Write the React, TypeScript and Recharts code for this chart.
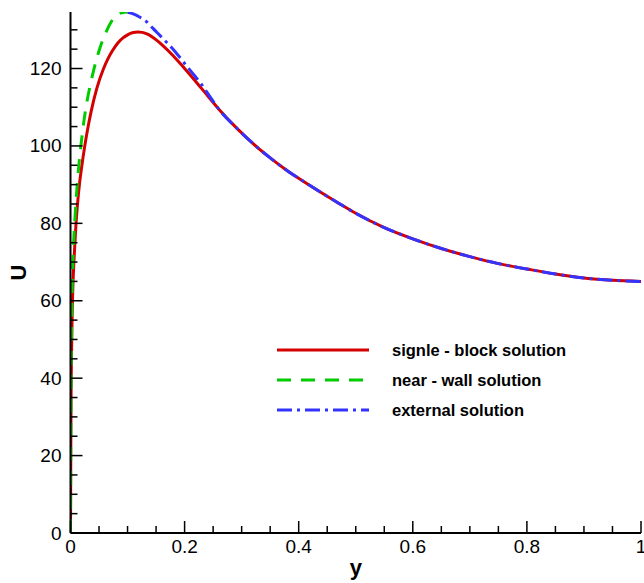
import React from 'react';
import { Legend, Line, LineChart, XAxis, YAxis } from 'recharts';

// single-block solution (red, solid)
const singleBlockY = [
  0, 0.0005, 0.001, 0.002, 0.003, 0.0045, 0.006, 0.0075, 0.0095, 0.0125, 0.016,
  0.02, 0.0245, 0.03, 0.036, 0.046, 0.058, 0.066, 0.074, 0.083, 0.092, 0.1, 0.11,
  0.118, 0.126, 0.135, 0.144, 0.16, 0.18, 0.2, 0.23, 0.26, 0.29, 0.32, 0.35, 0.38,
  0.41, 0.44, 0.47, 0.5, 0.55, 0.6, 0.65, 0.7, 0.75, 0.8, 0.85, 0.9, 0.95, 1,
];
const singleBlockU = [
  0, 20, 35, 48, 57, 65, 70, 74.3, 79.5, 85.3, 90.5,
  95, 99.5, 104.3, 108.8, 114.8, 120, 122.6, 124.7, 126.6, 127.9, 128.7, 129.3,
  129.45, 129.33, 128.87, 128.1, 126.2, 123.3, 120.0, 114.8, 109.5, 104.8, 100.6, 96.9, 93.6,
  90.7, 87.9, 85.2, 82.6, 78.9, 76.0, 73.5, 71.4, 69.6, 68.2, 66.9, 65.9, 65.3, 65.0,
];

// near-wall solution (green, dashed)
const nearWallY = [
  0, 0.0005, 0.001, 0.002, 0.003, 0.0039, 0.0056, 0.0079, 0.0096, 0.0114, 0.0145,
  0.0184, 0.0225, 0.0275, 0.034, 0.041, 0.0505, 0.0635, 0.072, 0.08, 0.09, 0.1,
];
const nearWallU = [
  0, 25, 40, 55, 64, 69, 75.5, 81.5, 85.5, 89.3, 94.8,
  100.3, 105.3, 110.3, 115.3, 119.8, 124.8, 129.8, 132.2, 133.7, 134.4, 134.6,
];

// external solution (blue, dash-dot)
const externalY = [
  0.1, 0.11, 0.121, 0.134, 0.145, 0.157, 0.174, 0.186, 0.2, 0.215, 0.23, 0.245,
  0.26, 0.29, 0.32, 0.35, 0.38, 0.41, 0.44, 0.47, 0.5, 0.55, 0.6, 0.65, 0.7, 0.75,
  0.8, 0.85, 0.9, 0.95, 1,
];
const externalU = [
  134.5, 134.1, 133.3, 132, 130.3, 128.5, 125.9, 123.9, 121.3, 118.6, 115.8, 112.6,
  109.5, 104.8, 100.6, 96.9, 93.6, 90.7, 87.9, 85.2, 82.6, 78.9, 76.0, 73.5, 71.4, 69.6,
  68.2, 66.9, 65.9, 65.3, 65.0,
];

const xTicks = [
  0, 0.05, 0.1, 0.15, 0.2, 0.25, 0.3, 0.35, 0.4, 0.45, 0.5, 0.55, 0.6, 0.65, 0.7,
  0.75, 0.8, 0.85, 0.9, 0.95, 1,
];
const yTicks = [
  0, 5, 10, 15, 20, 25, 30, 35, 40, 45, 50, 55, 60, 65, 70, 75, 80, 85, 90, 95,
  100, 105, 110, 115, 120, 125, 130,
];

const seriesNames = ['signle - block solution', 'near - wall solution', 'external solution'];

const toPoints = (ys: number[], us: number[]) => ys.map((y, i) => ({ y, u: us[i] }));

const FONT = '"Liberation Sans", Arial, Helvetica, sans-serif';
const PLOT_TOP = 12;
const PLOT_BOTTOM = 533;
const AXIS_W = 70.5;

const styles = [
  { color: '#d40000', dash: undefined as string | undefined, width: 3 },
  { color: '#00cc00', dash: '14 10', width: 3 },
  { color: '#3333ff', dash: '15 5 3 5', width: 3 },
];

const isMajor = (v: number, step: number) => Math.abs(v / step - Math.round(v / step)) < 1e-6;

const tickText = { fontFamily: FONT, fontSize: 19, fill: '#000' };

const XTick = (props: any) => {
  const { x, payload } = props;
  const v = payload.value as number;
  const major = isMajor(v, 0.2);
  return (
    <g>
      <line x1={x} x2={x} y1={PLOT_BOTTOM} y2={PLOT_BOTTOM - (major ? 12 : 7)} stroke="#000" strokeWidth={1.5} />
      {major && (
        <text x={x} y={PLOT_BOTTOM + 20} textAnchor="middle" style={tickText}>
          {String(Number(v.toFixed(1)))}
        </text>
      )}
    </g>
  );
};

const YTick = (props: any) => {
  const { y, payload } = props;
  const v = payload.value as number;
  const major = isMajor(v, 20);
  return (
    <g>
      <line x1={AXIS_W} x2={AXIS_W + (major ? 12 : 7)} y1={y} y2={y} stroke="#000" strokeWidth={1.5} />
      {major && (
        <text x={AXIS_W - 9} y={y + 6.5} textAnchor="end" style={tickText}>
          {v}
        </text>
      )}
    </g>
  );
};

const renderLegend = () => (
  <div style={{ fontFamily: FONT, fontWeight: 'bold', fontSize: 16.5, color: '#000' }}>
    {seriesNames.map((name, i) => (
      <div key={name} style={{ display: 'flex', alignItems: 'center', height: 30 }}>
        <svg width={92} height={6} style={{ display: 'block' }}>
          <line x1={0} x2={92} y1={3} y2={3} stroke={styles[i].color} strokeWidth={3} strokeDasharray={styles[i].dash} />
        </svg>
        <span style={{ marginLeft: 23, whiteSpace: 'nowrap' }}>{name}</span>
      </div>
    ))}
  </div>
);

const seriesData = [
  toPoints(singleBlockY, singleBlockU),
  toPoints(nearWallY, nearWallU),
  toPoints(externalY, externalU),
];

export default function App() {
  return (
    <div style={{ position: 'absolute', left: 0, top: 0, background: '#fff' }}>
      <LineChart width={644} height={583} margin={{ top: PLOT_TOP, right: 3, left: 0, bottom: 0 }}>
        <XAxis
          dataKey="y"
          type="number"
          domain={[0, 1]}
          ticks={xTicks}
          interval={0}
          tick={<XTick />}
          tickLine={false}
          height={583 - PLOT_BOTTOM}
          axisLine={{ stroke: '#000', strokeWidth: 2 }}
          allowDataOverflow
          label={{
            value: 'y',
            position: 'insideBottom',
            offset: 8,
            style: { fontFamily: FONT, fontWeight: 'bold', fontSize: 22, fill: '#000' },
          }}
        />
        <YAxis
          dataKey="u"
          type="number"
          domain={[0, 134.6]}
          ticks={yTicks}
          interval={0}
          tick={<YTick />}
          tickLine={false}
          width={AXIS_W}
          axisLine={{ stroke: '#000', strokeWidth: 2 }}
          allowDataOverflow
          label={{
            value: 'U',
            angle: -90,
            position: 'insideLeft',
            offset: 18,
            style: { fontFamily: FONT, fontWeight: 'bold', fontSize: 22, fill: '#000', textAnchor: 'middle' },
          }}
        />
        {seriesData.map((data, i) => (
          <Line
            key={seriesNames[i]}
            data={data}
            dataKey="u"
            name={seriesNames[i]}
            type="monotone"
            stroke={styles[i].color}
            strokeWidth={styles[i].width}
            strokeDasharray={styles[i].dash}
            dot={false}
            activeDot={false}
            isAnimationActive={false}
          />
        ))}
        <Legend
          layout="vertical"
          align="center"
          verticalAlign="middle"
          content={renderLegend}
          wrapperStyle={{ left: 277, top: 335, width: 'auto' }}
        />
      </LineChart>
    </div>
  );
}
